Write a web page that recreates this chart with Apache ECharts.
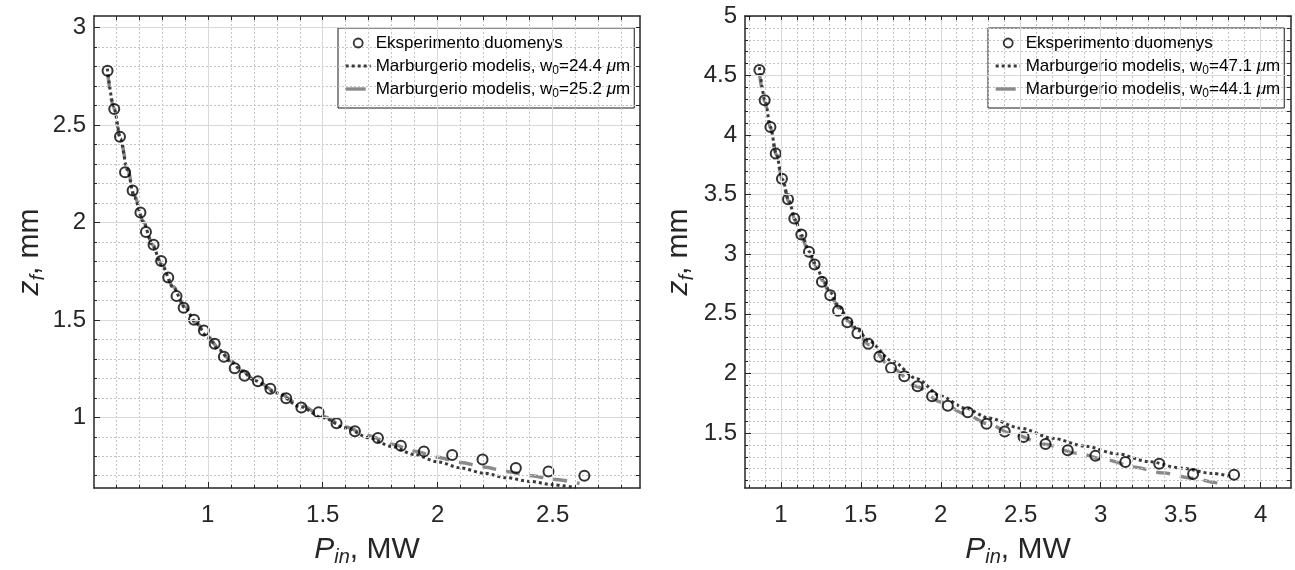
<!DOCTYPE html>
<html><head><meta charset="utf-8">
<script src="https://cdn.jsdelivr.net/npm/echarts@6/dist/echarts.min.js"></script>
<style>html,body{margin:0;padding:0;background:#fff}#c{width:1295px;height:570px}</style>
</head><body><div id="c"></div>
<script>
// ---------- DATA ----------
// Left panel: experiment
const leftExpP = [0.564,0.593,0.618,0.640,0.673,0.707,0.731,0.764,0.797,0.828,0.864,0.895,0.940,0.983,1.030,1.070,1.117,1.160,1.218,1.272,1.341,1.407,1.482,1.560,1.640,1.740,1.840,1.940,2.063,2.195,2.340,2.482,2.638];
const leftExpZ = [2.779,2.582,2.440,2.258,2.164,2.051,1.951,1.886,1.802,1.717,1.622,1.562,1.501,1.446,1.377,1.311,1.252,1.213,1.185,1.146,1.098,1.050,1.026,0.969,0.928,0.894,0.854,0.825,0.807,0.783,0.740,0.722,0.700];
// Left panel: model, w0 = 24.4 um (dotted)
const leftDotP = [0.563,0.59,0.62,0.65,0.68,0.72,0.76,0.80,0.85,0.90,0.95,1.00,1.05,1.10,1.15,1.20,1.30,1.40,1.50,1.60,1.70,1.80,1.90,2.00,2.10,2.20,2.30,2.40,2.50,2.60];
const leftDotZ = [2.79,2.60,2.43,2.27,2.13,2.00,1.88,1.78,1.665,1.565,1.48,1.41,1.345,1.285,1.235,1.19,1.125,1.055,0.998,0.945,0.895,0.850,0.808,0.771,0.740,0.713,0.690,0.671,0.654,0.638];
// Left panel: model, w0 = 25.2 um (dashed)
const leftDashP = [0.565,0.59,0.62,0.65,0.68,0.72,0.76,0.80,0.85,0.90,0.95,1.00,1.05,1.10,1.15,1.20,1.30,1.40,1.50,1.60,1.70,1.80,1.90,2.00,2.10,2.20,2.30,2.40,2.50,2.617];
const leftDashZ = [2.76,2.59,2.43,2.28,2.14,2.005,1.885,1.785,1.67,1.57,1.485,1.415,1.35,1.29,1.24,1.195,1.13,1.065,1.005,0.95,0.905,0.862,0.826,0.795,0.768,0.745,0.722,0.701,0.682,0.660];

// Right panel: experiment
const rightExpP = [0.866,0.899,0.935,0.968,1.007,1.045,1.084,1.128,1.176,1.211,1.257,1.309,1.358,1.416,1.479,1.547,1.616,1.689,1.772,1.855,1.946,2.044,2.169,2.286,2.400,2.518,2.655,2.794,2.967,3.154,3.366,3.578,3.834];
const rightExpZ = [4.547,4.292,4.068,3.845,3.634,3.461,3.301,3.166,3.021,2.914,2.769,2.656,2.525,2.429,2.337,2.248,2.139,2.046,1.976,1.892,1.808,1.729,1.673,1.578,1.513,1.466,1.408,1.354,1.309,1.256,1.242,1.155,1.150];
// Right panel: model, w0 = 47.1 um (dotted)
const rightDotP = [0.866,0.90,0.935,0.97,1.01,1.05,1.09,1.13,1.18,1.22,1.26,1.31,1.36,1.42,1.48,1.55,1.70,1.85,2.00,2.15,2.30,2.50,2.70,2.90,3.10,3.30,3.50,3.70,3.83];
const rightDotZ = [4.57,4.30,4.07,3.85,3.63,3.45,3.29,3.16,3.02,2.91,2.80,2.68,2.57,2.46,2.365,2.27,2.10,1.955,1.81,1.71,1.625,1.54,1.455,1.39,1.325,1.26,1.205,1.16,1.13];
// Right panel: model, w0 = 44.1 um (dashed)
const rightDashP = [0.866,0.90,0.935,0.97,1.01,1.05,1.09,1.13,1.18,1.22,1.26,1.31,1.36,1.42,1.48,1.55,1.70,1.85,2.00,2.15,2.30,2.45,2.65,2.85,3.05,3.20,3.39,3.57,3.74,3.79];
const rightDashZ = [4.52,4.28,4.06,3.84,3.62,3.44,3.28,3.14,3.00,2.89,2.78,2.66,2.55,2.44,2.34,2.24,2.04,1.89,1.76,1.66,1.575,1.49,1.405,1.33,1.27,1.215,1.165,1.12,1.08,1.066];

// Series names / legend text
const expName = 'Eksperimento duomenys';
const leftDotName = 'Marburgerio modelis, w0=24.4 μm';
const leftDashName = 'Marburgerio modelis, w0=25.2 μm';
const rightDotName = 'Marburgerio modelis, w0=47.1 μm';
const rightDashName = 'Marburgerio modelis, w0=44.1 μm';

// Tick labels (major ticks)
const leftXTicks = [1, 1.5, 2, 2.5];
const leftYTicks = [1, 1.5, 2, 2.5, 3];
const rightXTicks = [1, 1.5, 2, 2.5, 3, 3.5, 4];
const rightYTicks = [1.5, 2, 2.5, 3, 3.5, 4, 4.5, 5];

// ---------- CHART ----------
const FF = '"Liberation Sans", Arial, Helvetica, sans-serif';
const FRAME = '#262626';

function tenths(a, b) { const o = []; for (let k = Math.round(a * 10); k <= Math.round(b * 10); k++) o.push(k / 10); return o; }
function minorOf(a, b, majors) { return tenths(a, b).filter(v => !majors.some(m => Math.abs(m - v) < 1e-9)); }
function pairs(ps, zs) { return ps.map((p, i) => [p, zs[i]]); }

const nameRich = {
  it: { fontStyle: 'italic', fontSize: 30, fontFamily: FF, color: FRAME, lineHeight: 32 },
  sub: { fontStyle: 'italic', fontSize: 20, fontFamily: FF, color: FRAME, lineHeight: 20, padding: [16, 0, 0, 0] },
  n: { fontSize: 30, fontFamily: FF, color: FRAME, lineHeight: 32 }
};

function xAxes(g, min, max, majors, nameGap) {
  const minors = minorOf(Math.ceil(min * 10) / 10, Math.floor(max * 10) / 10, majors);
  const all = tenths(Math.ceil(min * 10) / 10, Math.floor(max * 10) / 10);
  return [
    { type: 'value', gridIndex: g, min, max, position: 'bottom', z: 5,
      axisLine: { show: true, onZero: false, lineStyle: { color: FRAME, width: 1.5 } },
      axisTick: { show: true, inside: true, length: 6, customValues: majors, lineStyle: { color: FRAME, width: 1 } },
      axisLabel: { show: true, customValues: majors, margin: 15, fontSize: 24, color: FRAME, fontFamily: FF },
      splitLine: { show: true, lineStyle: { color: '#d9d9d9', width: 1 } },
      name: '{it|P}{sub|in}{n|, MW}', nameLocation: 'middle', nameGap: nameGap,
      nameTextStyle: { rich: nameRich } },
    { type: 'value', gridIndex: g, min, max, position: 'bottom', z: 4,
      axisLine: { show: false, onZero: false },
      axisTick: { show: true, inside: true, length: 3, customValues: minors, lineStyle: { color: FRAME, width: 1 } },
      axisLabel: { show: false },
      splitLine: { show: true, lineStyle: { color: '#c4c4c4', width: 1, type: [2, 2] } } },
    { type: 'value', gridIndex: g, min, max, position: 'top', z: 5,
      axisLine: { show: true, onZero: false, lineStyle: { color: FRAME, width: 1.5 } },
      axisTick: { show: true, inside: true, length: 4, customValues: all, lineStyle: { color: FRAME, width: 1 } },
      axisLabel: { show: false }, splitLine: { show: false } }
  ];
}
function yAxes(g, min, max, majors, nameGap) {
  const minors = minorOf(Math.ceil(min * 10) / 10, Math.floor(max * 10) / 10, majors);
  const all = tenths(Math.ceil(min * 10) / 10, Math.floor(max * 10) / 10);
  return [
    { type: 'value', gridIndex: g, min, max, position: 'left', z: 5,
      axisLine: { show: true, onZero: false, lineStyle: { color: FRAME, width: 1.5 } },
      axisTick: { show: true, inside: true, length: 6, customValues: majors, lineStyle: { color: FRAME, width: 1 } },
      axisLabel: { show: true, customValues: majors, margin: 8, fontSize: 24, color: FRAME, fontFamily: FF },
      splitLine: { show: true, lineStyle: { color: '#d9d9d9', width: 1 } },
      name: '{it|z}{sub|f}{n|, mm}', nameLocation: 'middle', nameGap: nameGap, nameRotate: 90,
      nameTextStyle: { rich: nameRich } },
    { type: 'value', gridIndex: g, min, max, position: 'left', z: 4,
      axisLine: { show: false, onZero: false },
      axisTick: { show: true, inside: true, length: 3, customValues: minors, lineStyle: { color: FRAME, width: 1 } },
      axisLabel: { show: false },
      splitLine: { show: true, lineStyle: { color: '#c4c4c4', width: 1, type: [2, 2] } } },
    { type: 'value', gridIndex: g, min, max, position: 'right', z: 5,
      axisLine: { show: true, onZero: false, lineStyle: { color: FRAME, width: 1.5 } },
      axisTick: { show: true, inside: true, length: 4, customValues: all, lineStyle: { color: FRAME, width: 1 } },
      axisLabel: { show: false }, splitLine: { show: false } }
  ];
}

function panelSeries(axisIdx, expP, expZ, dotName, dotP, dotZ, dashName, dashP, dashZ) {
  return [
    { name: expName, type: 'scatter', xAxisIndex: axisIdx, yAxisIndex: axisIdx, z: 4,
      symbol: 'circle', symbolSize: 10,
      itemStyle: { color: 'rgba(0,0,0,0)', borderColor: '#000', borderWidth: 2 },
      data: pairs(expP, expZ) },
    { name: dashName, type: 'line', xAxisIndex: axisIdx, yAxisIndex: axisIdx, z: 3,
      showSymbol: false, symbol: 'none', smooth: 0.3, smoothMonotone: 'x',
      lineStyle: { color: '#8a8a8a', width: 3.4, type: [14, 10], cap: 'butt' },
      itemStyle: { color: '#8a8a8a' },
      data: pairs(dashP, dashZ) },
    { name: dotName, type: 'line', xAxisIndex: axisIdx, yAxisIndex: axisIdx, z: 3,
      showSymbol: false, symbol: 'none', smooth: 0.3, smoothMonotone: 'x',
      lineStyle: { color: '#3a3a3a', width: 3, type: [3, 3], cap: 'butt' },
      itemStyle: { color: '#3a3a3a' },
      data: pairs(dotP, dotZ) }
  ];
}

function legendFor(left, dotName, dashName) {
  return {
    orient: 'vertical', left: left, top: 28,
    backgroundColor: '#fff', borderColor: '#1a1a1a', borderWidth: 1,
    padding: [4, 4, 8, 6], itemGap: 1, itemWidth: 25, itemHeight: 9,
    textStyle: { fontFamily: FF, fontSize: 17, color: '#000', lineHeight: 22,
      rich: {
        sub: { fontFamily: FF, fontSize: 12, color: '#000', lineHeight: 12, padding: [10, 0, 0, 0] },
        mu: { fontFamily: FF, fontSize: 17, color: '#000', fontStyle: 'italic', lineHeight: 22 }
      } },
    formatter: n => n.replace('w0', 'w{sub|0}').replace('μ', '{mu|μ}'),
    data: [
      { name: expName, icon: 'circle', itemStyle: { color: 'rgba(0,0,0,0)', borderColor: '#000', borderWidth: 1.8 } },
      { name: dotName, itemStyle: { opacity: 0 }, lineStyle: { color: '#3a3a3a', width: 3, type: [3, 3], cap: 'butt' } },
      { name: dashName, itemStyle: { opacity: 0 }, lineStyle: { color: '#8a8a8a', width: 3.4, type: [20, 10], cap: 'butt' } }
    ]
  };
}

const option = {
  animation: false,
  backgroundColor: '#fff',
  grid: [
    { left: 94, top: 16, width: 546, height: 472, containLabel: false, outerBoundsMode: 'none' },
    { left: 745, top: 16, width: 546, height: 472, containLabel: false, outerBoundsMode: 'none' }
  ],
  xAxis: [].concat(xAxes(0, 0.505, 2.88, leftXTicks, 44), xAxes(1, 0.776, 4.19, rightXTicks, 44)),
  yAxis: [].concat(yAxes(0, 0.637, 3.06, leftYTicks, 48), yAxes(1, 1.038, 5.0, rightYTicks, 50)),
  legend: [legendFor(338, leftDotName, leftDashName), legendFor(988, rightDotName, rightDashName)],
  series: [].concat(
    panelSeries(0, leftExpP, leftExpZ, leftDotName, leftDotP, leftDotZ, leftDashName, leftDashP, leftDashZ),
    panelSeries(3, rightExpP, rightExpZ, rightDotName, rightDotP, rightDotZ, rightDashName, rightDashP, rightDashZ)
  )
};
echarts.init(document.getElementById('c'), null, { renderer: 'canvas' }).setOption(option);
</script>
</body></html>
